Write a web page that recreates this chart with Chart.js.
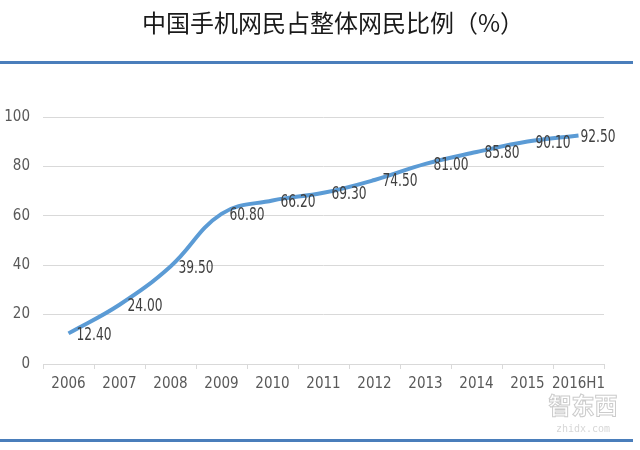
<!DOCTYPE html>
<html>
<head>
<meta charset="utf-8">
<script src="https://cdn.jsdelivr.net/npm/chart.js@4"></script>
<style>
  html, body { margin: 0; padding: 0; background: #fff; }
  #wrap { width: 640px; height: 450px; }
</style>
</head>
<body>
<div id="wrap"><canvas id="myChart" width="640" height="450"></canvas></div>
<script>
const years = ["2006", "2007", "2008", "2009", "2010", "2011", "2012", "2013", "2014", "2015", "2016H1"]
const shares = [12.4, 24.0, 39.5, 60.8, 66.2, 69.3, 74.5, 81.0, 85.8, 90.1, 92.5]
const yTicks = [0, 20, 40, 60, 80, 100]
const titleText = "中国手机网民占整体网民比例（%）"

const narrow = "'Liberation Sans Narrow', 'DejaVu Sans Condensed', sans-serif"

// title, blue rules, data labels and watermark
const decor = {
    id: "decor",
    beforeDraw(chart) {
        const ctx = chart.ctx
        ctx.save()
        ctx.fillStyle = "#4a7ebb"
        ctx.fillRect(0, 61, 633, 3)
        ctx.fillRect(0, 439, 633, 3)
        ctx.fillStyle = "#1a1a1a"
        ctx.font = "24px 'Noto Sans CJK SC'"
        ctx.textAlign = "center"
        ctx.textBaseline = "middle"
        ctx.fillText(titleText, 333, 23)
        ctx.restore()
    },
    afterDatasetsDraw(chart) {
        const ctx = chart.ctx
        const meta = chart.getDatasetMeta(0)
        const sx = 0.8
        ctx.save()
        ctx.font = "17px " + narrow
        ctx.fillStyle = "#404040"
        ctx.textAlign = "left"
        ctx.textBaseline = "middle"
        meta.data.forEach(function (pt, i) {
            // last label sits tight to the point, as in the original
            const dx = i === shares.length - 1 ? 2 : 8
            ctx.save()
            ctx.translate(pt.x + dx, pt.y + 2)
            ctx.scale(sx, 1)
            ctx.fillText(shares[i].toFixed(2), 0, 0)
            ctx.restore()
        })
        // watermark
        ctx.textAlign = "center"
        ctx.strokeStyle = "rgba(190,190,190,0.8)"
        ctx.lineWidth = 1
        ctx.font = "bold 23px 'Noto Sans CJK SC'"
        ctx.strokeText("智东西", 583, 405)
        ctx.fillStyle = "rgba(205,205,205,0.8)"
        ctx.font = "10px 'DejaVu Sans Mono'"
        ctx.fillText("zhidx.com", 583, 429)
        ctx.restore()
    }
}

const data = {
    labels: years,
    datasets: [{
        data: shares,
        borderColor: "#5b9bd5",
        backgroundColor: "#5b9bd5",
        borderWidth: 4,
        tension: 0.4,
        pointRadius: 0,
        fill: false
    }]
}

const config = {
    type: "line",
    data: data,
    plugins: [decor],
    options: {
        responsive: false,
        animation: false,
        layout: {
            padding: { left: 0, right: 36, top: 117, bottom: 0 }
        },
        plugins: {
            legend: { display: false },
            tooltip: { enabled: false },
            title: { display: false }
        },
        scales: {
            x: {
                offset: true,
                grid: {
                    offset: true,
                    drawOnChartArea: false,
                    drawTicks: true,
                    tickLength: 5,
                    color: "#d9d9d9"
                },
                border: { color: "#d9d9d9", width: 1 },
                ticks: {
                    color: "#595959",
                    font: { family: narrow, size: 15 },
                    padding: 6,
                    maxRotation: 0,
                    autoSkip: false
                },
                afterFit(scale) { scale.height = 86 }
            },
            y: {
                min: 0,
                max: 100,
                afterBuildTicks(scale) {
                    scale.ticks = yTicks.map(function (v) { return { value: v } })
                },
                grid: { color: "#d9d9d9", lineWidth: 1, drawTicks: false },
                border: { display: false },
                ticks: {
                    color: "#595959",
                    font: { family: narrow, size: 15 },
                    padding: 13
                },
                afterFit(scale) { scale.width = 43 }
            }
        }
    }
}

document.addEventListener("DOMContentLoaded", function () {
    const myChart = new Chart(document.getElementById("myChart"), config)
    const diff = 117 - myChart.chartArea.top
    if (Math.abs(diff) > 0.5) {
        myChart.options.layout.padding.top = 117 + diff
        myChart.update()
    }
})
</script>
</body>
</html>
